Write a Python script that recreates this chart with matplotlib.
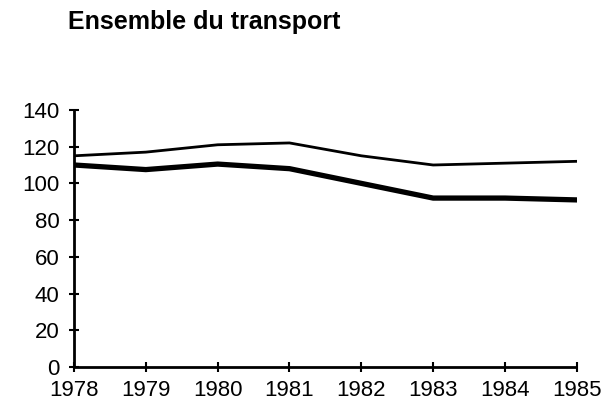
import matplotlib
matplotlib.use('Agg')
import matplotlib.pyplot as plt

years = [1978, 1979, 1980, 1981, 1982, 1983, 1984, 1985]
# ligne fine (haut) et ligne épaisse (bas)
upper = [115, 117, 121, 122, 115, 110, 111, 112]
lower = [110, 107.5, 110.5, 108, 100, 92, 92, 91]

y_ticks = [0, 20, 40, 60, 80, 100, 120, 140]

plt.rcParams['font.family'] = ['Liberation Sans', 'DejaVu Sans']

fig = plt.figure(figsize=(6.04, 4.13), dpi=100)
ax = fig.add_axes([0.1225, 0.111, 0.8325, 0.623])

ax.plot(years, upper, color='black', linewidth=2.0)
ax.plot(years, lower, color='black', linewidth=3.8)

ax.set_xlim(1978, 1985)
ax.set_ylim(0, 140)
ax.set_xticks(years)
ax.set_yticks(y_ticks)

for side in ['top', 'right']:
    ax.spines[side].set_visible(False)
for side in ['left', 'bottom']:
    ax.spines[side].set_linewidth(2.0)
    ax.spines[side].set_capstyle('butt')

ax.tick_params(axis='both', direction='inout', length=7, width=1.5,
               labelsize=16, colors='black')
ax.tick_params(axis='y', pad=7)
ax.tick_params(axis='x', pad=6)

fig.text(0.112, 0.947, 'Ensemble du transport', fontsize=18,
         fontweight='bold', ha='left', va='center')

fig.savefig('out.png', dpi=100)
